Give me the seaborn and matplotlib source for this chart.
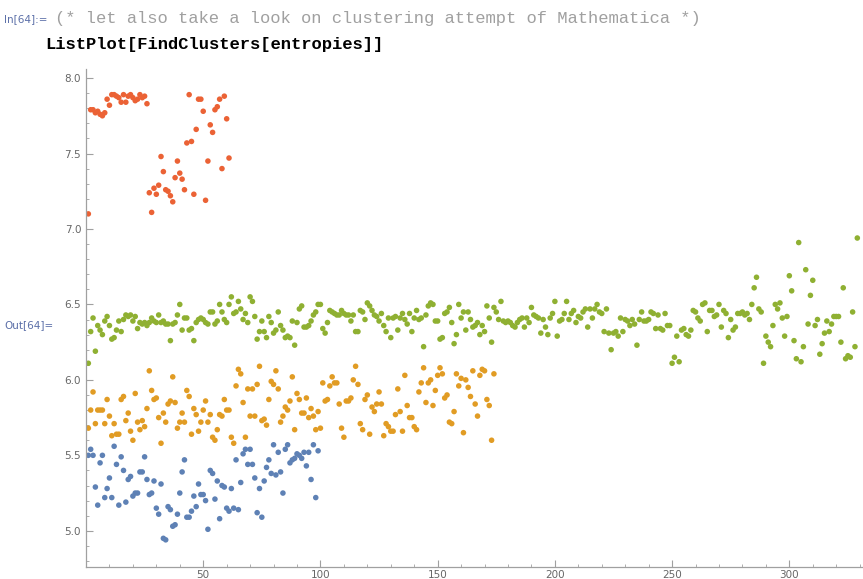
import matplotlib
matplotlib.use("Agg")
import matplotlib.pyplot as plt
import pandas as pd
import seaborn as sns
from matplotlib.ticker import MultipleLocator

# cluster values (index along x is 1..n for each cluster)
cluster_blue = [
    5.50, 5.54, 5.50, 5.29, 5.17, 5.45, 5.50, 5.22, 5.28, 5.35,
    5.22, 5.56, 5.44, 5.17, 5.49, 5.40, 5.19, 5.34, 5.36, 5.23,
    5.25, 5.25, 5.39, 5.39, 5.49, 5.34, 5.24, 5.25, 5.33, 5.15,
    5.11, 5.31, 4.95, 4.94, 5.16, 5.14, 5.03, 5.04, 5.11, 5.25,
    5.39, 5.47, 5.09, 5.09, 5.13, 5.23, 5.16, 5.31, 5.24, 5.24,
    5.20, 5.01, 5.40, 5.38, 5.21, 5.33, 5.08, 5.30, 5.29, 5.15,
    5.13, 5.28, 5.15, 5.47, 5.14, 5.32, 5.51, 5.54, 5.44,
    5.54, 5.44, 5.35, 5.12, 5.28, 5.09, 5.33, 5.42, 5.47, 5.38,
    5.57, 5.37, 5.52, 5.39, 5.25, 5.54, 5.57, 5.45, 5.47, 5.48,
    5.51, 5.50, 5.48, 5.52, 5.43, 5.52, 5.34, 5.57, 5.22, 5.53,
]

cluster_orange = [
    5.68, 5.80, 5.92, 5.71, 5.80, 5.80, 5.80, 5.71, 5.87, 5.76,
    5.63, 5.71, 5.64, 5.64, 5.87, 5.89, 5.73, 5.78, 5.66, 5.60,
    5.91, 5.72, 5.67, 5.73, 5.69, 5.81, 6.06, 5.93, 5.87, 5.88,
    5.75, 5.58, 5.78, 5.72, 5.84, 5.86, 6.02, 5.85, 5.68, 5.72,
    5.78, 5.72, 5.93, 5.89, 5.64, 5.81, 5.77, 5.66, 5.72, 5.80,
    5.86, 5.72, 5.77, 5.62, 5.60, 5.67, 5.77, 5.76, 5.87, 5.80,
    5.80, 5.62, 5.58, 5.96, 6.07, 6.04, 5.85, 5.62, 5.94, 5.76,
    5.94, 5.76, 5.97, 6.09, 5.73, 5.74, 5.70, 5.87, 5.99, 5.97,
    6.06, 5.94, 5.72, 5.76, 5.82, 5.80, 5.86, 6.02, 5.67, 5.91,
    5.87, 5.78, 5.78, 5.88, 5.75, 5.81, 5.76, 5.67, 5.79, 5.68,
    5.98, 5.86, 5.87, 5.96, 6.02, 5.98, 5.98, 5.84, 5.68, 5.62,
    5.86, 5.86, 5.88, 6.00, 6.09, 5.97, 5.71, 5.67, 5.87, 5.90,
    5.64, 5.82, 5.79, 5.84, 5.92, 5.84, 5.63, 5.71, 5.69, 5.66,
    5.66, 5.77, 5.94, 5.79, 5.66, 6.03, 5.83, 5.75,
    5.75, 5.69, 5.67, 5.92, 5.98, 6.08, 5.85, 5.98, 6.00, 5.83,
    5.93, 6.03, 6.08, 6.04, 5.88, 5.90, 5.72, 5.71, 5.79, 6.04,
    5.96, 6.01, 5.65, 6.00, 5.95, 5.89, 6.06, 5.84, 5.76, 6.03,
    6.07, 6.06, 5.87, 5.83, 5.60, 6.04,
]

cluster_green = [
    6.11, 6.32, 6.41, 6.19, 6.36, 6.33, 6.30, 6.39, 6.42, 6.36,
    6.27, 6.28, 6.33, 6.39, 6.32, 6.40, 6.43, 6.42, 6.43, 6.39,
    6.42, 6.34, 6.38, 6.37, 6.38, 6.36, 6.38, 6.41, 6.39, 6.38,
    6.43, 6.38, 6.39, 6.37, 6.37, 6.26, 6.37, 6.38, 6.43, 6.50,
    6.33, 6.41, 6.41, 6.33, 6.34, 6.26, 6.38, 6.40, 6.41, 6.40,
    6.38, 6.37, 6.45, 6.45, 6.37, 6.39, 6.50, 6.45, 6.40, 6.38,
    6.50, 6.55, 6.44, 6.45, 6.52, 6.47, 6.40, 6.44, 6.38, 6.55,
    6.52, 6.42, 6.27, 6.32, 6.39, 6.32, 6.28, 6.42, 6.38, 6.31,
    6.33, 6.45, 6.36, 6.33, 6.28, 6.29, 6.28, 6.39, 6.23, 6.38,
    6.47, 6.49, 6.35, 6.35, 6.36, 6.39, 6.43, 6.45, 6.50, 6.50,
    6.34, 6.31, 6.38, 6.46, 6.45, 6.44, 6.43, 6.43, 6.46, 6.44,
    6.43, 6.43, 6.39, 6.43, 6.32, 6.32, 6.46, 6.45, 6.40, 6.51,
    6.49, 6.46, 6.43, 6.42, 6.39, 6.44, 6.36, 6.32, 6.41, 6.28,
    6.41, 6.42, 6.33, 6.41, 6.44, 6.40, 6.37,
    6.44, 6.32, 6.41, 6.46, 6.40, 6.41, 6.22, 6.43, 6.49, 6.51,
    6.50, 6.39, 6.39, 6.27, 6.28, 6.44, 6.45, 6.48, 6.38, 6.24,
    6.30, 6.50, 6.41, 6.45, 6.33, 6.45, 6.40, 6.35, 6.36, 6.38,
    6.30, 6.36, 6.32, 6.49, 6.41, 6.25, 6.48, 6.45, 6.40, 6.52,
    6.39, 6.38, 6.39, 6.38, 6.36, 6.35, 6.38, 6.40, 6.41, 6.35,
    6.41, 6.38, 6.48, 6.43, 6.42, 6.41, 6.31, 6.40, 6.35, 6.30,
    6.41, 6.44, 6.52, 6.29, 6.39, 6.40, 6.44, 6.52, 6.40, 6.44,
    6.46, 6.38, 6.42,
    6.41, 6.45, 6.47, 6.35, 6.47, 6.41, 6.47, 6.50, 6.45, 6.44,
    6.32, 6.47, 6.31, 6.20, 6.31, 6.32, 6.29, 6.41, 6.32, 6.40,
    6.39, 6.36, 6.40, 6.37, 6.23, 6.40, 6.45, 6.39, 6.39, 6.40,
    6.45, 6.44, 6.34, 6.43, 6.34, 6.33, 6.44, 6.36, 6.36, 6.11,
    6.15, 6.29, 6.12, 6.33, 6.34, 6.30, 6.29, 6.33, 6.46, 6.45,
    6.41, 6.39, 6.50, 6.51, 6.32, 6.46, 6.46, 6.42, 6.43, 6.50,
    6.35, 6.46, 6.44, 6.28, 6.40, 6.33, 6.35, 6.44, 6.44, 6.45,
    6.43,
    6.44, 6.40, 6.50, 6.61, 6.68, 6.47, 6.45, 6.11, 6.29, 6.25,
    6.22, 6.36, 6.50, 6.47, 6.51, 6.41, 6.29, 6.42, 6.69, 6.59,
    6.26, 6.14, 6.91, 6.12, 6.22, 6.73, 6.37, 6.56, 6.66, 6.36,
    6.40, 6.17, 6.24, 6.31, 6.39, 6.32, 6.37, 6.42, 6.42, 6.42,
    6.25, 6.61, 6.14, 6.16, 6.15, 6.45, 6.22, 6.94,
]

cluster_red = [
    7.10, 7.79, 7.79, 7.77, 7.78, 7.76, 7.75, 7.77, 7.86, 7.82,
    7.89, 7.89, 7.88, 7.87, 7.84, 7.89, 7.84, 7.88, 7.89, 7.87,
    7.85, 7.86, 7.89, 7.87, 7.88, 7.83, 7.24, 7.11, 7.27, 7.23,
    7.29, 7.48, 7.38, 7.26, 7.25, 7.22, 7.18, 7.34, 7.45, 7.37,
    7.33, 7.26, 7.57, 7.89, 7.58, 7.23, 7.66, 7.86, 7.86, 7.78,
    7.19, 7.45, 7.69, 7.64, 7.79, 7.81, 7.86, 7.40, 7.88, 7.73,
    7.47,
]

cluster_names = ["c1", "c2", "c3", "c4"]
cluster_colors = ["#5E81B5", "#E19C24", "#8FB032", "#EB6235"]


def main():
    frames = []
    for name, vals in zip(cluster_names, [cluster_blue, cluster_orange, cluster_green, cluster_red]):
        frames.append(pd.DataFrame({"x": range(1, len(vals) + 1), "y": vals, "cluster": name}))
    df = pd.concat(frames, ignore_index=True)

    sns.set_style("white")
    fig = plt.figure(figsize=(8.63, 5.79), dpi=100)
    ax = fig.add_axes([86 / 863, 12 / 579, 776 / 863, 498 / 579])

    sns.scatterplot(data=df, x="x", y="y", hue="cluster", hue_order=cluster_names,
                    palette=cluster_colors, s=16, linewidth=0, legend=False, ax=ax)

    ax.set_xlim(0, 331)
    ax.set_ylim(4.76, 8.06)
    ax.set_xlabel("")
    ax.set_ylabel("")

    # Mathematica-like axes
    for side in ["top", "right"]:
        ax.spines[side].set_visible(False)
    for side in ["left", "bottom"]:
        ax.spines[side].set_color("#a0a0a0")
        ax.spines[side].set_linewidth(0.9)
    ax.xaxis.set_major_locator(MultipleLocator(50))
    ax.xaxis.set_minor_locator(MultipleLocator(10))
    ax.yaxis.set_major_locator(MultipleLocator(0.5))
    ax.yaxis.set_minor_locator(MultipleLocator(0.1))
    ax.yaxis.set_major_formatter(matplotlib.ticker.FormatStrFormatter("%.1f"))
    ax.tick_params(which="both", direction="in", color="#a0a0a0", labelcolor="#666666",
                   labelsize=7.5, left=True, bottom=True)
    ax.tick_params(which="major", length=5, width=0.8)
    ax.tick_params(which="minor", length=2.5, width=0.6)
    ax.set_xticks([50, 100, 150, 200, 250, 300])
    ax.tick_params(axis="x", pad=2)

    # notebook cell text
    fig.text(4 / 863, 1 - 19 / 579, "In[64]:=", color="#5b6fa8", fontsize=7.5,
             va="center", ha="left", family="DejaVu Sans")
    fig.text(55 / 863, 1 - 18 / 579,
             "(* let also take a look on clustering attempt of Mathematica *)",
             color="#a0a0a0", fontsize=12.3, va="center", ha="left",
             family="Liberation Mono")
    fig.text(45 / 863, 1 - 44 / 579, "ListPlot[FindClusters[entropies]]",
             color="black", fontsize=12.3, fontweight="bold", va="center", ha="left",
             family="Liberation Mono")
    fig.text(4 / 863, 1 - 325 / 579, "Out[64]=", color="#5b6fa8", fontsize=7.5,
             va="center", ha="left", family="DejaVu Sans")

    fig.savefig("out.png", dpi=100)


if __name__ == "__main__":
    main()
